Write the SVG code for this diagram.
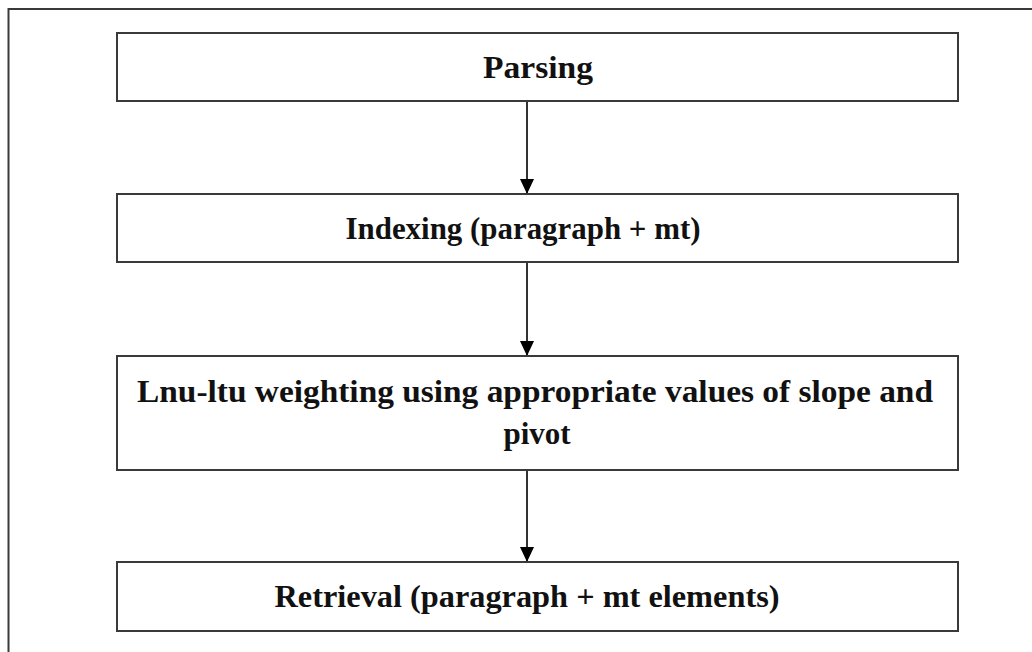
<svg xmlns="http://www.w3.org/2000/svg" width="1032" height="652" viewBox="0 0 1032 652">
<style>
.box{fill:#fff;stroke:#3a3a3a;stroke-width:2}
.t{font-family:"Liberation Serif","Times New Roman",serif;font-weight:bold;font-size:31px;fill:#111;text-anchor:middle}
.c{stroke:#333;stroke-width:2;fill:none}
</style>
<rect width="1032" height="652" fill="#fff"/>
<rect x="8.5" y="9" width="1040" height="660" fill="none" stroke="#3a3a3a" stroke-width="2"/>
<g id="connectors">
<line class="c" x1="527" y1="101" x2="527" y2="193"/>
<path d="M520,179 L534,179 L527,194 Z" fill="#000"/>
<line class="c" x1="527" y1="262" x2="527" y2="355"/>
<path d="M520,341 L534,341 L527,356 Z" fill="#000"/>
<line class="c" x1="527" y1="470" x2="527" y2="561"/>
<path d="M520,547 L534,547 L527,562 Z" fill="#000"/>
</g>
<g id="n1"><rect class="box" x="117" y="33" width="841" height="68"/><text class="t" x="538" y="78" textLength="110" lengthAdjust="spacingAndGlyphs">Parsing</text></g>
<g id="n2"><rect class="box" x="117" y="194" width="841" height="68"/><text class="t" x="523" y="239" textLength="355" lengthAdjust="spacingAndGlyphs">Indexing (paragraph + mt)</text></g>
<g id="n3"><rect class="box" x="117" y="356" width="841" height="114"/><text class="t" x="535" y="402" textLength="796" lengthAdjust="spacingAndGlyphs">Lnu-ltu weighting using appropriate values of slope and</text><text class="t" x="537" y="444">pivot</text></g>
<g id="n4"><rect class="box" x="117" y="562" width="841" height="69"/><text class="t" x="527" y="607" textLength="505" lengthAdjust="spacingAndGlyphs">Retrieval (paragraph + mt elements)</text></g>
</svg>
